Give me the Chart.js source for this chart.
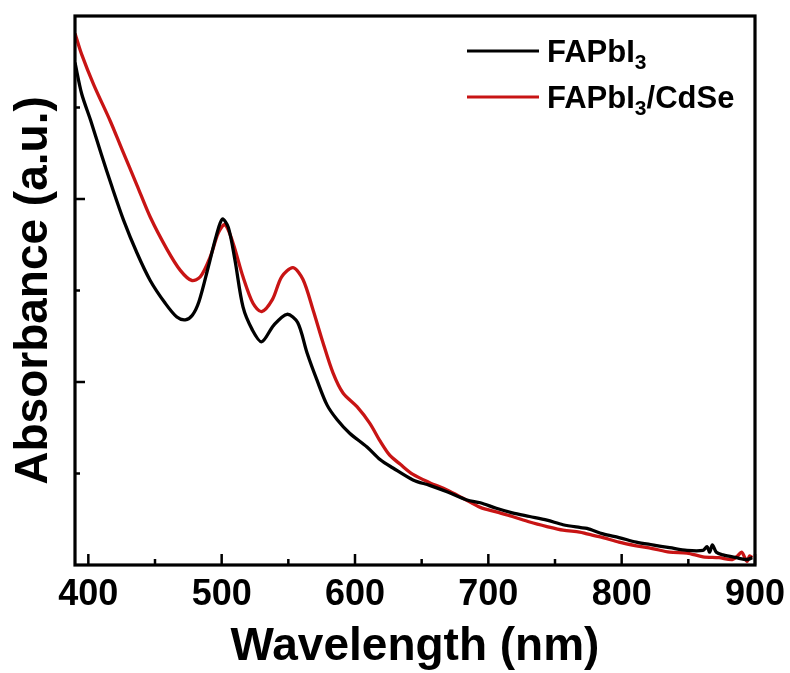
<!DOCTYPE html>
<html>
<head>
<meta charset="utf-8">
<script src="https://cdn.jsdelivr.net/npm/chart.js@4.4.1/dist/chart.umd.min.js"></script>
<style>
  html, body { margin: 0; padding: 0; background: #fff; }
  #wrap { width: 790px; height: 673px; }
</style>
</head>
<body>
<div id="wrap"><canvas id="absChart" width="790" height="673"></canvas></div>
<script>
// wavelength (nm) and absorbance (a.u.)
const nmPure = [390, 395, 401.7, 409.5, 417.8, 426.4, 436.5, 446.4, 457.7, 466.4, 472.7, 478, 483, 490, 496, 500.5, 505, 510, 516, 523, 530, 539, 549, 557, 564, 571.5, 579, 586.5, 596, 609, 619, 628.5, 643.5, 656, 669, 684, 694, 706, 718, 731, 744, 756, 768.5, 774, 786, 798, 811, 823, 836, 849, 861, 864, 866, 868, 871, 876, 886, 894, 898];
const absPure = [5.49, 5.15, 4.86, 4.50, 4.13, 3.77, 3.41, 3.11, 2.86, 2.71, 2.68, 2.73, 2.88, 3.26, 3.60, 3.78, 3.69, 3.33, 2.82, 2.57, 2.44, 2.62, 2.74, 2.65, 2.32, 2.02, 1.75, 1.59, 1.44, 1.29, 1.15, 1.06, 0.93, 0.87, 0.80, 0.71, 0.68, 0.62, 0.57, 0.53, 0.49, 0.44, 0.41, 0.40, 0.34, 0.30, 0.25, 0.22, 0.19, 0.16, 0.16, 0.20, 0.14, 0.22, 0.14, 0.11, 0.08, 0.06, 0.08];

const nmCdSe = [390, 395, 404, 416.5, 425, 436.5, 446.5, 459, 469, 477.5, 484, 491.5, 497.5, 502.5, 508.5, 516, 523.5, 530, 538, 545, 553.5, 561, 568.5, 576, 583.5, 591, 601.5, 611, 619, 626, 634, 643.5, 656, 669, 681, 694, 706, 718, 731, 744, 756, 768.5, 774, 786, 798, 811, 823, 836, 849, 861, 873, 883, 887, 890, 894, 896, 898];
const absCdSe = [5.81, 5.58, 5.25, 4.85, 4.55, 4.15, 3.80, 3.45, 3.22, 3.11, 3.15, 3.37, 3.63, 3.72, 3.52, 3.15, 2.86, 2.77, 2.90, 3.15, 3.25, 3.12, 2.79, 2.43, 2.10, 1.88, 1.73, 1.55, 1.35, 1.20, 1.10, 0.99, 0.90, 0.82, 0.73, 0.63, 0.58, 0.53, 0.47, 0.42, 0.38, 0.36, 0.34, 0.30, 0.25, 0.21, 0.18, 0.14, 0.13, 0.09, 0.08, 0.06, 0.10, 0.14, 0.04, 0.10, 0.08];

const seriesLabels = ['FAPbI3', 'FAPbI3/CdSe'];
const seriesColors = ['#000000', '#c81414'];

const xMajorTicks = [400, 500, 600, 700, 800, 900];
const xMinorTicks = [450, 550, 650, 750, 850];
const yMajorTicks = [2, 4];
const yMinorTicks = [1, 3, 5];

const FONT = '"Liberation Sans", Arial, sans-serif';

function toPoints(xs, ys) {
  return xs.map(function(v, i) { return { x: v, y: ys[i] }; });
}

// box round the plot plus ticks pointing inwards
const frameTicks = {
  id: 'frameTicks',
  afterDraw(chart) {
    const ctx = chart.ctx;
    const a = chart.chartArea;
    const x = chart.scales.x, y = chart.scales.y;
    ctx.save();
    ctx.strokeStyle = '#000';
    ctx.lineWidth = 3.2;
    ctx.strokeRect(a.left, a.top, a.right - a.left, a.bottom - a.top);
    ctx.lineWidth = 2.5;
    ctx.beginPath();
    xMajorTicks.forEach(function(v) { const p = x.getPixelForValue(v); ctx.moveTo(p, a.bottom); ctx.lineTo(p, a.bottom - 11); });
    xMinorTicks.forEach(function(v) { const p = x.getPixelForValue(v); ctx.moveTo(p, a.bottom); ctx.lineTo(p, a.bottom - 6); });
    yMajorTicks.forEach(function(v) { const p = y.getPixelForValue(v); ctx.moveTo(a.left, p); ctx.lineTo(a.left + 10, p); });
    yMinorTicks.forEach(function(v) { const p = y.getPixelForValue(v); ctx.moveTo(a.left, p); ctx.lineTo(a.left + 5, p); });
    ctx.stroke();
    ctx.restore();
  }
};

// legend with subscript digits (FAPbI3 -> FAPbI₃)
const subLegend = {
  id: 'subLegend',
  afterDraw(chart) {
    const ctx = chart.ctx;
    ctx.save();
    chart.data.datasets.forEach(function(ds, i) {
      const ly = 51 + i * 46;
      ctx.strokeStyle = ds.borderColor;
      ctx.lineWidth = 3.2;
      ctx.beginPath();
      ctx.moveTo(467, ly);
      ctx.lineTo(539, ly);
      ctx.stroke();
      let tx = 547;
      ctx.fillStyle = '#000';
      ctx.textBaseline = 'alphabetic';
      const parts = ds.label.split(/(\d+)/);
      parts.forEach(function(part) {
        if (!part) return;
        if (/^\d+$/.test(part)) {
          ctx.font = 'bold 21px ' + FONT;
          ctx.fillText(part, tx, ly + 18);
        } else {
          ctx.font = 'bold 31px ' + FONT;
          ctx.fillText(part, tx, ly + 11);
        }
        tx += ctx.measureText(part).width;
      });
    });
    ctx.restore();
  }
};

const ctx = document.getElementById('absChart').getContext('2d');
new Chart(ctx, {
  type: 'line',
  data: {
    datasets: [
      { label: seriesLabels[0], data: toPoints(nmPure, absPure), borderColor: seriesColors[0], borderWidth: 3.3, pointRadius: 0, tension: 0.3, fill: false },
      { label: seriesLabels[1], data: toPoints(nmCdSe, absCdSe), borderColor: seriesColors[1], borderWidth: 3.3, pointRadius: 0, tension: 0.3, fill: false }
    ]
  },
  options: {
    responsive: false,
    animation: false,
    layout: { padding: { top: 16, right: 35, left: 0, bottom: 0 } },
    plugins: { legend: { display: false }, tooltip: { enabled: false } },
    scales: {
      x: {
        type: 'linear', min: 390, max: 900,
        afterBuildTicks: function(scale) { scale.ticks = xMajorTicks.map(function(v) { return { value: v }; }); },
        afterFit: function(scale) { scale.height = 108; scale.paddingRight = 0; scale.paddingLeft = 0; },
        grid: { display: false, drawTicks: false },
        border: { display: false },
        ticks: { color: '#000', padding: 8, maxRotation: 0, font: { family: FONT, size: 36, weight: 'bold' } },
        title: { display: true, text: 'Wavelength (nm)', color: '#000', padding: { top: 0, bottom: 3 }, font: { family: FONT, size: 46, weight: 'bold', lineHeight: 1 } }
      },
      y: {
        min: 0, max: 6,
        afterFit: function(scale) { scale.width = 75; },
        grid: { display: false, drawTicks: false },
        border: { display: false },
        ticks: { display: false },
        title: { display: true, text: 'Absorbance (a.u.)', color: '#000', padding: { top: 11, bottom: 18 }, font: { family: FONT, size: 46, weight: 'bold', lineHeight: 1 } }
      }
    }
  },
  plugins: [frameTicks, subLegend]
});
</script>
</body>
</html>
